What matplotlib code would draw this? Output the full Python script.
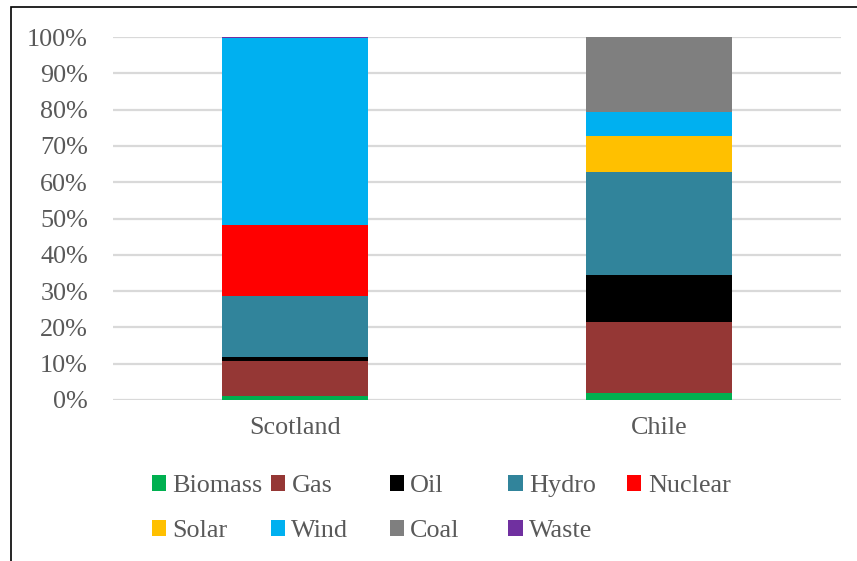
import matplotlib
matplotlib.use("Agg")
import matplotlib.pyplot as plt
from matplotlib.patches import Rectangle, Patch
import numpy as np

# generation mix, percent of total
countries = ["Scotland", "Chile"]
sources = ["Biomass", "Gas", "Oil", "Hydro", "Nuclear", "Solar", "Wind", "Coal", "Waste"]
biomass = [1.0, 2.0]
gas = [9.7, 19.5]
oil = [1.2, 12.9]
hydro = [16.7, 28.3]
nuclear = [19.5, 0.0]
solar = [0.0, 10.1]
wind = [51.6, 6.5]
coal = [0.0, 20.7]
waste = [0.3, 0.0]
yticks = list(range(0, 101, 10))

colors = ["#00b050", "#953735", "#000000", "#31849b", "#ff0000",
          "#ffc000", "#00b0f0", "#7f7f7f", "#7030a0"]
series = [biomass, gas, oil, hydro, nuclear, solar, wind, coal, waste]

plt.rcParams['font.family'] = ['Liberation Serif', 'DejaVu Serif']
txt = "#595959"
fs = 18.8

W, H = 857, 561
fig = plt.figure(figsize=(W / 100, H / 100), dpi=100)
ax = fig.add_axes([113 / W, 1 - 400 / H, (841 - 113) / W, (400 - 37) / H])

x = np.arange(len(countries))
bottom = np.zeros(len(countries))
for vals, c, name in zip(series, colors, sources):
    ax.bar(x, vals, width=0.4, bottom=bottom, color=c, linewidth=0, label=name, zorder=3)
    bottom += np.array(vals)

ax.set_xlim(-0.5, 1.5)
ax.set_ylim(0, 100)
ax.set_yticks(yticks)
ax.set_yticklabels([f"{t}%" for t in yticks])
ax.set_xticks(x)
ax.set_xticklabels(countries)
ax.yaxis.grid(True, color="#d9d9d9", linewidth=1.6, zorder=0)
ax.set_axisbelow(True)
for s in ax.spines.values():
    s.set_visible(False)
ax.tick_params(axis="y", length=0, pad=18, labelsize=fs, labelcolor=txt)
ax.tick_params(axis="x", length=0, pad=12, labelsize=fs, labelcolor=txt)

# legend entries laid out on a fixed grid, 5 per row
for i, (name, c) in enumerate(zip(sources, colors)):
    col, row = i % 5, i // 5
    px = 152 + 118.8 * col
    py = 486 + 45 * row
    fig.legend(handles=[Patch(facecolor=c, edgecolor="none")], labels=[name],
               loc="center left", bbox_to_anchor=(px / W, 1 - py / H),
               frameon=False, borderpad=0, borderaxespad=0,
               handlelength=0.54, handleheight=0.54, handletextpad=0.25,
               prop={"size": fs}, labelcolor=txt)

# chart border (runs off the right and bottom edges)
fig.add_artist(Rectangle((11 / W, -0.05), 1.1, 1 - 7 / H + 0.05,
                         transform=fig.transFigure, fill=False,
                         edgecolor="black", linewidth=1.2, clip_on=False))

fig.savefig("out.png", dpi=100)
